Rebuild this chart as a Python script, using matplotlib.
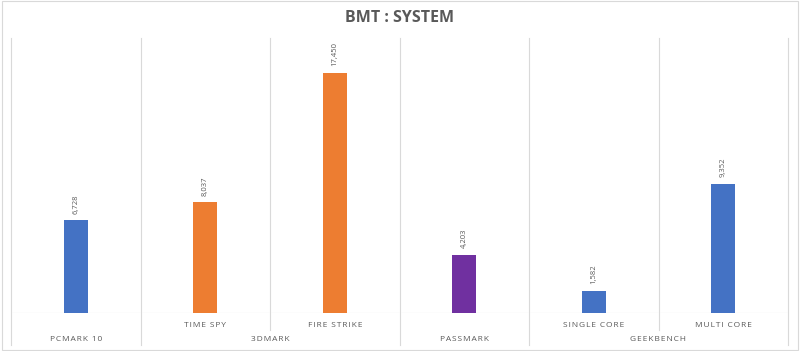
import matplotlib.pyplot as plt
from matplotlib.patches import Rectangle
import matplotlib.transforms as mtransforms

# data
tests = ["PCMARK 10", "TIME SPY", "FIRE STRIKE", "PASSMARK", "SINGLE CORE", "MULTI CORE"]
scores = [6728, 8037, 17450, 4203, 1582, 9352]
groups = ["PCMARK 10", "3DMARK", "PASSMARK", "GEEKBENCH"]
group_sizes = [1, 2, 1, 2]
bar_colors = ["#4472C4", "#ED7D31", "#ED7D31", "#7030A0", "#4472C4", "#4472C4"]

grid_c = "#D9D9D9"
text_c = "#595959"
fam = ["Open Sans", "DejaVu Sans"]


def spaced(s):
    # Excel-style letter spacing
    return "\u200a".join(s)


fig = plt.figure(figsize=(8, 3.51), dpi=100)
ax = fig.add_axes([11 / 800, 1 - 313 / 351, 777 / 800, 275 / 351])

x = list(range(len(tests)))
ax.bar(x, scores, width=0.185, color=bar_colors, zorder=3)
ax.set_xlim(-0.5, len(tests) - 0.5)
ax.set_ylim(0, 20000)

for xi, v in zip(x, scores):
    ax.annotate(f"{v:,}", (xi, v), xytext=(0, 5), textcoords="offset points",
                rotation=90, ha="center", va="bottom", fontsize=5.5,
                color=text_c, family=fam)

for s in ax.spines.values():
    s.set_visible(False)
ax.set_xticks([])
ax.set_yticks([])
ax.axhline(0, color=grid_c, lw=0.8, zorder=2)

trans = mtransforms.blended_transform_factory(ax.transData, ax.transAxes)

# group boundaries
bounds = [0]
for n in group_sizes:
    bounds.append(bounds[-1] + n)
group_edges = set(bounds)
for b in range(len(tests) + 1):
    xb = b - 0.5
    low = -0.116 if b in group_edges else -0.062
    ax.plot([xb, xb], [low, 1], color=grid_c, lw=0.8, transform=trans,
            clip_on=False, zorder=1)

# level-1 labels (tests inside groups with more than one member)
for i, n in enumerate(group_sizes):
    start = bounds[i]
    if n > 1:
        for j in range(start, start + n):
            ax.text(j, -0.044, spaced(tests[j]), transform=trans, ha="center",
                    va="center", fontsize=6, color=text_c, family=fam)
    ax.text(start + (n - 1) / 2, -0.098, spaced(groups[i]), transform=trans,
            ha="center", va="center", fontsize=6, color=text_c, family=fam)

fig.text(0.5, 1 - 18 / 351, "BMT : SYSTEM", ha="center", va="center",
         fontsize=11.5, fontweight="bold", color=text_c, family=fam)

fig.patches.append(Rectangle((0.002, 0.004), 0.996, 0.992, transform=fig.transFigure,
                             fill=False, edgecolor=grid_c, lw=0.8))

fig.savefig("out.png", dpi=100)
